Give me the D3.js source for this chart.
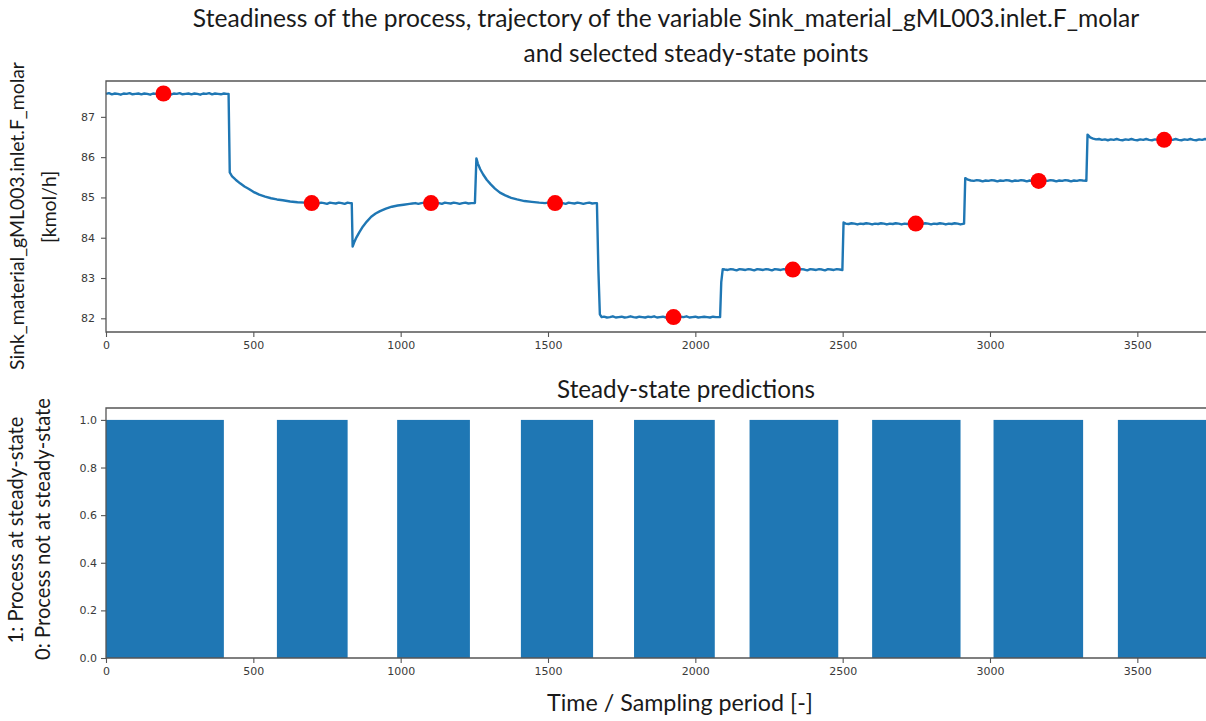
<!DOCTYPE html>
<html>
<head>
<meta charset="utf-8">
<script src="https://cdn.jsdelivr.net/npm/d3@7"></script>
<style>
  html, body { margin: 0; padding: 0; background: #fff; }
  svg { display: block; }
</style>
</head>
<body>
<svg id="chart" width="1206" height="721"></svg>
<script>
// Trajectory of Sink_material_gML003.inlet.F_molar: [sample, kmol/h]
const trajectory = [
  [0, 87.57], [10, 87.59], [20, 87.56], [30, 87.58], [40, 87.57], [50, 87.55], [60, 87.58], [70, 87.57],
  [80, 87.59], [90, 87.56], [100, 87.57], [110, 87.58], [120, 87.56], [130, 87.58], [140, 87.57], [150, 87.55],
  [160, 87.58], [170, 87.57], [180, 87.59], [190, 87.56], [200, 87.58], [210, 87.57], [220, 87.55], [230, 87.58],
  [240, 87.57], [250, 87.59], [260, 87.56], [270, 87.57], [280, 87.58], [290, 87.56], [300, 87.58], [310, 87.57],
  [320, 87.55], [330, 87.58], [340, 87.57], [350, 87.59], [360, 87.56], [370, 87.58], [380, 87.57], [390, 87.56],
  [400, 87.58], [410, 87.57], [416, 87.57],
  [420, 85.62], [428, 85.52], [440, 85.44], [455, 85.35], [470, 85.27], [485, 85.21], [500, 85.14], [520, 85.07],
  [540, 85.02], [560, 84.98], [580, 84.95], [600, 84.93], [625, 84.90], [650, 84.88], [675, 84.87], [700, 84.86],
  [710, 84.87], [720, 84.85], [730, 84.87], [740, 84.86], [750, 84.84], [760, 84.87], [770, 84.86], [780, 84.85],
  [790, 84.87], [800, 84.86], [810, 84.84], [820, 84.87], [828, 84.86], [834, 84.86],
  [837, 83.78], [842, 83.88], [850, 84.01], [860, 84.14], [872, 84.28], [885, 84.40], [900, 84.52], [915, 84.60],
  [930, 84.66], [950, 84.72], [970, 84.77], [990, 84.80], [1010, 84.82], [1030, 84.84], [1040, 84.85], [1050, 84.86],
  [1060, 84.84], [1070, 84.86], [1080, 84.87], [1090, 84.85], [1100, 84.86], [1110, 84.87], [1120, 84.85],
  [1130, 84.86], [1140, 84.84], [1150, 84.87], [1160, 84.86], [1170, 84.85], [1180, 84.87], [1190, 84.86],
  [1200, 84.84], [1210, 84.86], [1220, 84.87], [1230, 84.85], [1240, 84.86], [1252, 84.86],
  [1257, 85.97], [1262, 85.84], [1270, 85.70], [1280, 85.57], [1292, 85.44], [1305, 85.33], [1320, 85.22],
  [1337, 85.12], [1355, 85.05], [1375, 84.99], [1395, 84.95], [1420, 84.91], [1445, 84.89], [1470, 84.87],
  [1490, 84.86], [1500, 84.87], [1510, 84.85], [1520, 84.86], [1530, 84.87], [1540, 84.85], [1550, 84.86],
  [1560, 84.84], [1570, 84.87], [1580, 84.86], [1590, 84.85], [1600, 84.87], [1610, 84.86], [1620, 84.84],
  [1630, 84.86], [1640, 84.87], [1650, 84.85], [1660, 84.86], [1666, 84.86],
  [1671, 83.20], [1676, 82.10], [1682, 82.03], [1690, 82.04], [1700, 82.02], [1710, 82.03], [1720, 82.05],
  [1730, 82.02], [1740, 82.03], [1750, 82.04], [1760, 82.02], [1770, 82.03], [1780, 82.05], [1790, 82.03],
  [1800, 82.02], [1810, 82.04], [1820, 82.03], [1830, 82.02], [1840, 82.04], [1850, 82.03], [1860, 82.05],
  [1870, 82.02], [1880, 82.03], [1890, 82.04], [1900, 82.02], [1910, 82.03], [1920, 82.04], [1930, 82.03],
  [1940, 82.02], [1950, 82.04], [1960, 82.03], [1970, 82.05], [1980, 82.02], [1990, 82.03], [2000, 82.04],
  [2010, 82.02], [2020, 82.03], [2030, 82.04], [2040, 82.03], [2050, 82.02], [2060, 82.04], [2070, 82.03],
  [2084, 82.03],
  [2088, 82.90], [2093, 83.22], [2100, 83.21], [2110, 83.20], [2120, 83.22], [2130, 83.21], [2140, 83.19],
  [2150, 83.22], [2160, 83.21], [2170, 83.20], [2180, 83.22], [2190, 83.21], [2200, 83.19], [2210, 83.22],
  [2220, 83.21], [2230, 83.20], [2240, 83.22], [2250, 83.21], [2260, 83.19], [2270, 83.22], [2280, 83.21],
  [2290, 83.20], [2300, 83.22], [2310, 83.21], [2320, 83.19], [2330, 83.22], [2340, 83.21], [2350, 83.20],
  [2360, 83.22], [2370, 83.21], [2380, 83.19], [2390, 83.22], [2400, 83.21], [2410, 83.20], [2420, 83.22],
  [2430, 83.21], [2440, 83.19], [2450, 83.22], [2460, 83.21], [2470, 83.20], [2480, 83.22], [2490, 83.21], [2499, 83.20],
  [2503, 84.38], [2510, 84.35], [2520, 84.34], [2530, 84.36], [2540, 84.35], [2550, 84.33], [2560, 84.35],
  [2570, 84.34], [2580, 84.36], [2590, 84.35], [2600, 84.33], [2610, 84.35], [2620, 84.34], [2630, 84.36],
  [2640, 84.35], [2650, 84.33], [2660, 84.35], [2670, 84.34], [2680, 84.36], [2690, 84.35], [2700, 84.33],
  [2710, 84.35], [2720, 84.34], [2730, 84.36], [2740, 84.35], [2750, 84.33], [2760, 84.35], [2770, 84.34],
  [2780, 84.36], [2790, 84.35], [2800, 84.33], [2810, 84.35], [2820, 84.34], [2830, 84.36], [2840, 84.35],
  [2850, 84.33], [2860, 84.35], [2870, 84.34], [2880, 84.36], [2890, 84.35], [2900, 84.33], [2912, 84.35],
  [2916, 85.48], [2925, 85.44], [2935, 85.42], [2945, 85.41], [2955, 85.43], [2965, 85.42], [2975, 85.40],
  [2985, 85.42], [2995, 85.41], [3005, 85.43], [3015, 85.42], [3025, 85.40], [3035, 85.42], [3045, 85.41],
  [3055, 85.43], [3065, 85.42], [3075, 85.40], [3085, 85.42], [3095, 85.41], [3105, 85.43], [3115, 85.42],
  [3125, 85.40], [3135, 85.42], [3145, 85.41], [3155, 85.43], [3165, 85.42], [3175, 85.40], [3185, 85.42],
  [3195, 85.41], [3205, 85.43], [3215, 85.42], [3225, 85.40], [3235, 85.42], [3245, 85.41], [3255, 85.43],
  [3265, 85.42], [3275, 85.40], [3285, 85.42], [3295, 85.41], [3305, 85.43], [3315, 85.42], [3327, 85.41],
  [3331, 86.56], [3340, 86.49], [3350, 86.46], [3360, 86.44], [3370, 86.45], [3380, 86.43], [3390, 86.44],
  [3400, 86.42], [3410, 86.44], [3420, 86.43], [3430, 86.45], [3440, 86.43], [3450, 86.42], [3460, 86.44],
  [3470, 86.43], [3480, 86.45], [3490, 86.43], [3500, 86.42], [3510, 86.44], [3520, 86.43], [3530, 86.45],
  [3540, 86.43], [3550, 86.42], [3560, 86.44], [3570, 86.43], [3580, 86.45], [3590, 86.43], [3600, 86.42],
  [3610, 86.44], [3620, 86.43], [3630, 86.45], [3640, 86.43], [3650, 86.42], [3660, 86.44], [3670, 86.43],
  [3680, 86.45], [3690, 86.43], [3700, 86.42], [3710, 86.44], [3720, 86.43], [3730, 86.45], [3740, 86.43], [3750, 86.42]
];

// Selected steady-state points
const pointTime = [195, 698, 1103, 1524, 1926, 2331, 2748, 3165, 3591];
const pointValue = [87.58, 84.86, 84.86, 84.86, 82.03, 83.21, 84.35, 85.41, 86.43];

// Steady-state predictions (1 inside these intervals, 0 elsewhere)
const steadyStart = [0, 580, 988, 1408, 1792, 2184, 2600, 3012, 3434];
const steadyEnd = [400, 820, 1235, 1653, 2066, 2485, 2900, 3316, 3750];

// Tick labels
const xTicks = [0, 500, 1000, 1500, 2000, 2500, 3000, 3500];
const yTicksTop = [82, 83, 84, 85, 86, 87];
const yTicksBottom = [0, 0.2, 0.4, 0.6, 0.8, 1.0];

const sBlue = '#1f77b4';
const sTextFont = 'Lato, "Open Sans", sans-serif';
const sTickFont = '"DejaVu Sans", sans-serif';

const svg = d3.select('#chart');

// Shared x scale (right spine falls just outside the frame)
const x = d3.scaleLinear().domain([0, 3750]).range([106, 1211]);

const jTop = { t: 81, b: 332 };
const jBottom = { t: 408, b: 658 };

const yTop = d3.scaleLinear().domain([81.66, 87.89]).range([jTop.b, jTop.t]);
const yBottom = d3.scaleLinear().domain([0, 1.05]).range([jBottom.b, jBottom.t]);

// Add a text; with a target length the font size is scaled to span it
const fnText = (sText, iX, iY, iTarget, bRotate, iSize = 20) => {
  const oT = svg.append('text')
    .attr('transform', bRotate ? `translate(${iX},${iY}) rotate(-90)` : `translate(${iX},${iY})`)
    .attr('text-anchor', 'middle')
    .attr('font-family', sTextFont)
    .attr('font-size', iSize)
    .attr('fill', '#1a1a1a')
    .text(sText);
  if (iTarget) {
    const iLen = oT.node().getComputedTextLength();
    iSize = (iSize * iTarget) / iLen;
    oT.attr('font-size', iSize);
  }
  return iSize;
};

// Style a d3 axis group the matplotlib way
const fnStyleAxis = (oG) => {
  oG.select('.domain').remove();
  oG.selectAll('line').attr('stroke', '#555').attr('stroke-width', 1.1);
  oG.selectAll('text').attr('font-family', sTickFont).attr('font-size', 11).attr('fill', '#3a3a3a');
};

// ---- Top panel: trajectory ----
const oTop = svg.append('g');

oTop.append('path')
  .datum(trajectory)
  .attr('fill', 'none')
  .attr('stroke', sBlue)
  .attr('stroke-width', 2.4)
  .attr('stroke-linejoin', 'round')
  .attr('d', d3.line().x(d => x(d[0])).y(d => yTop(d[1])));

oTop.selectAll('circle')
  .data(pointTime)
  .enter()
  .append('circle')
  .attr('cx', d => x(d))
  .attr('cy', (d, i) => yTop(pointValue[i]))
  .attr('r', 8)
  .attr('fill', '#ff0000');

oTop.append('g')
  .attr('transform', `translate(0,${jTop.b})`)
  .call(d3.axisBottom(x).tickValues(xTicks).tickSize(5).tickPadding(4).tickFormat(d3.format('d')))
  .call(fnStyleAxis);

oTop.append('g')
  .attr('transform', 'translate(106,0)')
  .call(d3.axisLeft(yTop).tickValues(yTicksTop).tickSize(5).tickPadding(6).tickFormat(d3.format('d')))
  .call(fnStyleAxis);

// spines
oTop.append('path')
  .attr('d', `M${x(3750)},${jTop.t}H106V${jTop.b}H${x(3750)}`)
  .attr('fill', 'none')
  .attr('stroke', '#555')
  .attr('stroke-width', 1.3);

// ---- Bottom panel: steady-state predictions ----
const oBottom = svg.append('g');

oBottom.selectAll('rect')
  .data(steadyStart)
  .enter()
  .append('rect')
  .attr('x', d => x(d))
  .attr('width', (d, i) => x(steadyEnd[i]) - x(d))
  .attr('y', yBottom(1))
  .attr('height', yBottom(0) - yBottom(1))
  .attr('fill', sBlue);

oBottom.append('g')
  .attr('transform', `translate(0,${jBottom.b})`)
  .call(d3.axisBottom(x).tickValues(xTicks).tickSize(5).tickPadding(4).tickFormat(d3.format('d')))
  .call(fnStyleAxis);

oBottom.append('g')
  .attr('transform', 'translate(106,0)')
  .call(d3.axisLeft(yBottom).tickValues(yTicksBottom).tickSize(5).tickPadding(4).tickFormat(d3.format('.1f')))
  .call(fnStyleAxis);

oBottom.append('path')
  .attr('d', `M${x(3750)},${jBottom.t}H106V${jBottom.b}H${x(3750)}`)
  .attr('fill', 'none')
  .attr('stroke', '#555')
  .attr('stroke-width', 1.3);

// ---- Titles and labels ----
fnText('Steadiness of the process, trajectory of the variable Sink_material_gML003.inlet.F_molar', 666, 27, 947);
fnText('and selected steady-state points', 696, 62, 345);
fnText('Steady-state predictions', 686, 398, 258);
fnText('Time / Sampling period [-]', 680, 711, 266);

const iYLabelSize = fnText('Sink_material_gML003.inlet.F_molar', 24, 216, 308, true);
fnText('[kmol/h]', 56, 207, null, true, iYLabelSize);
const iBotLabelSize = fnText('0: Process not at steady-state', 50, 529, 262, true);
fnText('1: Process at steady-state', 23, 530, null, true, iBotLabelSize);
</script>
</body>
</html>
